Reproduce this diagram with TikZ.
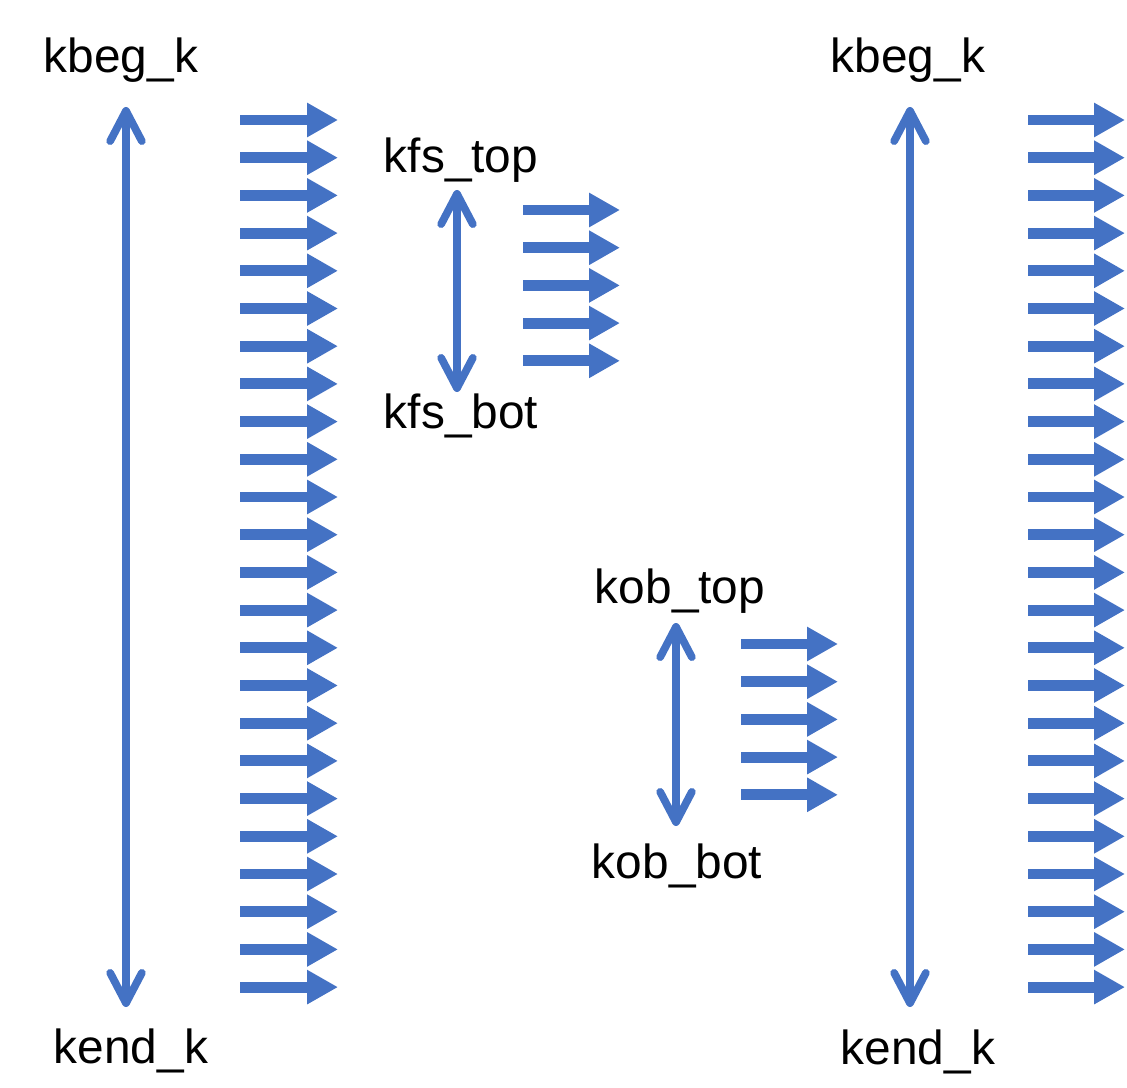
\documentclass[tikz,border=0pt]{standalone}
\usepackage{fontspec}
\setmainfont{Liberation Sans}
\usetikzlibrary{arrows.meta}
\definecolor{ablue}{HTML}{4472C4}
\begin{document}
\begin{tikzpicture}[x=0.01cm,y=-0.01cm,
  lbl/.style={font=\fontsize{13.6pt}{16pt}\selectfont, anchor=base, inner sep=0pt},
  rangearrow/.style={draw=ablue, line width=2.2pt, {Straight Barb[round,length=8.6pt,width=9pt]}-{Straight Barb[round,length=8.6pt,width=9pt]}},
  fluxarrow/.style={draw=ablue, line width=3.1pt, -{Triangle[length=8.8pt,width=9.2pt]}}]
\useasboundingbox (0,0) rectangle (1127,1088);
% labels
\node[lbl] (kbegL) at (121,73) {kbeg\_k};
\node[lbl] (kendL) at (131,1063) {kend\_k};
\node[lbl] (kbegR) at (908,73) {kbeg\_k};
\node[lbl] (kendR) at (918,1064) {kend\_k};
\node[lbl] (kfst) at (461,173) {kfs\_top};
\node[lbl] (kfsb) at (461,429) {kfs\_bot};
\node[lbl] (kobt) at (680,603) {kob\_top};
\node[lbl] (kobb) at (677,878) {kob\_bot};
% range arrow end points
\coordinate (L1) at (126,107); \coordinate (L2) at (126,1007);
\coordinate (R1) at (910,107); \coordinate (R2) at (910,1007);
\coordinate (F1) at (457,190); \coordinate (F2) at (457,392);
\coordinate (O1) at (676,623); \coordinate (O2) at (676,826);
\draw[rangearrow] (L1) -- (L2);
\draw[rangearrow] (R1) -- (R2);
\draw[rangearrow] (F1) -- (F2);
\draw[rangearrow] (O1) -- (O2);
% flux arrows
\foreach \i in {0,...,23}{
  \pgfmathsetmacro{\yy}{120+\i*37.7}
  \coordinate (la\i) at (240,\yy); \coordinate (lb\i) at (338,\yy);
  \draw[fluxarrow] (la\i) -- (lb\i);
  \coordinate (ra\i) at (1028,\yy); \coordinate (rb\i) at (1125,\yy);
  \draw[fluxarrow] (ra\i) -- (rb\i);
}
\foreach \i in {0,...,4}{
  \pgfmathsetmacro{\yy}{210+\i*37.7}
  \coordinate (fa\i) at (523,\yy); \coordinate (fb\i) at (620,\yy);
  \draw[fluxarrow] (fa\i) -- (fb\i);
  \pgfmathsetmacro{\zz}{644+\i*37.7}
  \coordinate (oa\i) at (741,\zz); \coordinate (ob\i) at (838,\zz);
  \draw[fluxarrow] (oa\i) -- (ob\i);
}
\end{tikzpicture}
\end{document}
